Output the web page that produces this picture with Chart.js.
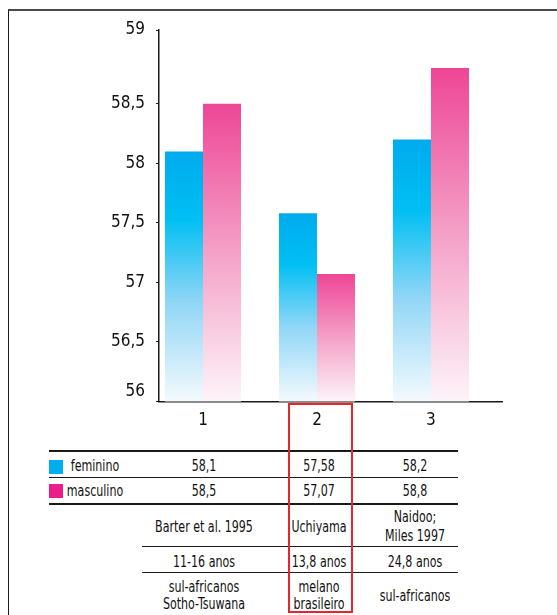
<!DOCTYPE html>
<html>
<head>
<meta charset="utf-8">
<script src="https://cdn.jsdelivr.net/npm/chart.js@4/dist/chart.umd.min.js"></script>
<style>
  html, body { margin: 0; padding: 0; background: #fff; }
  body { width: 557px; height: 615px; position: relative; overflow: hidden;
         font-family: "DejaVu Sans Condensed", "DejaVu Sans", sans-serif; color: #111; }
  #frame { position: absolute; left: 8px; top: 9px; width: 560px; height: 620px;
           border-top: 2px solid #4a4a4a; border-left: 1.5px solid #1a1a1a; box-sizing: border-box; }
  #c { position: absolute; left: 0; top: 0; }
  .t { position: absolute; transform: translate(-50%, -50%) scaleX(0.82); white-space: pre; text-align: center; font-size: 15px; line-height: 17px; }
  .ln { position: absolute; height: 1.5px; background: #1a1a1a; }
  .sq { position: absolute; width: 14px; height: 14px; }
  #box { position: absolute; left: 287.5px; top: 403px; width: 65px; height: 210px; border: 2px solid #e5262d; box-sizing: border-box; }
</style>
</head>
<body>
<div id="frame"></div>
<canvas id="c" width="557" height="440"></canvas>
<div id="table"></div>
<div id="box"></div>
<script>
const categories = ['1', '2', '3'];
const seriesNames = ['feminino', 'masculino'];
const feminino = [58.1, 57.58, 58.2];
const masculino = [58.5, 57.07, 58.8];
const yTickValues = [56, 56.5, 57, 57.5, 58, 58.5, 59];
const yTickLabels = ['56', '56,5', '57', '57,5', '58', '58,5', '59'];
const sources = ['Barter et al. 1995', 'Uchiyama', 'Naidoo;\nMiles 1997'];
const ages = ['11-16 anos', '13,8 anos', '24,8 anos'];
const populations = ['sul-africanos\nSotho-Tsuwana', 'melano\nbrasileiro', 'sul-africanos'];

const FONT = '"DejaVu Sans Condensed", "DejaVu Sans", sans-serif';

function makeGradient(stops, solid) {
  return function (ctx) {
    if (ctx.type !== 'data') return solid;
    const chart = ctx.chart;
    if (!chart.chartArea) return solid;
    const ys = chart.scales.y;
    const v = ctx.parsed ? ctx.parsed.y : null;
    if (v == null) return solid;
    const top = ys.getPixelForValue(v);
    const bottom = ys.getPixelForValue(ys.min);
    if (!isFinite(top) || !isFinite(bottom) || bottom - top < 1) return solid;
    const g = chart.ctx.createLinearGradient(0, top, 0, bottom);
    stops.forEach(s => g.addColorStop(s[0], s[1]));
    return g;
  };
}

const femStops = [[0, '#00abed'], [0.27, '#00bff3'], [0.6, '#8fd6f6'], [1, '#f4fafe']];
const mascStops = [[0, '#ee4696'], [0.5, '#f4a1c7'], [1, '#fdf4f9']];

new Chart(document.getElementById('c'), {
  type: 'bar',
  data: {
    datasets: [
      { label: seriesNames[0], data: categories.map((c, i) => ({ x: Number(c), y: feminino[i] })),
        backgroundColor: makeGradient(femStops, '#00aeef'), borderWidth: 0 },
      { label: seriesNames[1], data: categories.map((c, i) => ({ x: Number(c), y: masculino[i] })),
        backgroundColor: makeGradient(mascStops, '#ec1c8c'), borderWidth: 0 }
    ]
  },
  options: {
    responsive: false,
    animation: false,
    events: [],
    categoryPercentage: 0.667,
    barPercentage: 1,
    layout: { padding: { top: 30, right: 55, left: 0, bottom: 0 } },
    plugins: { legend: { display: false }, tooltip: { enabled: false }, title: { display: false } },
    scales: {
      x: {
        type: 'linear',
        offset: false,
        min: 0.614, max: 3.623,
        afterBuildTicks: s => { s.ticks = categories.map(c => ({ value: Number(c) })); },
        afterFit: s => { s.height = 38.5; },
        ticks: { callback: (v, i) => categories[i], color: '#111', font: { family: FONT, size: 17 }, padding: 1, autoSkip: false, maxRotation: 0 },
        grid: { display: false, offset: false },
        border: { display: true, color: '#1a1a1a', width: 1.5 }
      },
      y: {
        type: 'linear',
        min: 56, max: 59.12,
        afterFit: s => { s.width = 159; },
        afterBuildTicks: s => {
          const last = yTickValues[yTickValues.length - 1];
          s.ticks = yTickValues.map(v => ({ value: v >= last ? s.max : v }));
        },
        ticks: {
          callback: (v, i) => i === 0 ? [yTickLabels[i], ''] : yTickLabels[i],
          color: '#111', font: { family: FONT, size: 17 }, padding: 11, autoSkip: false
        },
        grid: { drawOnChartArea: false, drawTicks: true, tickLength: 3, color: '#1a1a1a', lineWidth: 1 },
        border: { display: true, color: '#1a1a1a', width: 1.5 }
      }
    }
  }
});

// Table below the chart
const table = document.getElementById('table');
const fmt = v => String(v).replace('.', ',');
function text(str, cx, cy, lh) {
  const d = document.createElement('div');
  d.className = 't';
  d.textContent = str;
  d.style.left = cx + 'px';
  d.style.top = cy + 'px';
  if (lh) d.style.lineHeight = lh + 'px';
  table.appendChild(d);
}
function line(x1, x2, y) {
  const d = document.createElement('div');
  d.className = 'ln';
  d.style.left = x1 + 'px';
  d.style.width = (x2 - x1) + 'px';
  d.style.top = (y - 0.75) + 'px';
  table.appendChild(d);
}
function square(color, x, y) {
  const d = document.createElement('div');
  d.className = 'sq';
  d.style.left = x + 'px';
  d.style.top = y + 'px';
  d.style.background = color;
  table.appendChild(d);
}
const colX = [204, 318.5, 415];
line(48.5, 458, 451);
line(48.5, 458, 477.5);
line(48.5, 458, 504);
line(141.5, 458, 546.7);
line(141.5, 458, 572.7);
square('#00aeef', 48.5, 459.5);
square('#ec1c8c', 48.5, 484);
text(seriesNames[0], 95, 466);
text(seriesNames[1], 95, 491);
feminino.forEach((v, i) => text(fmt(v), colX[i], 466));
masculino.forEach((v, i) => text(fmt(v), colX[i], 491));
sources.forEach((s, i) => text(s, colX[i], 526.5, 19));
ages.forEach((s, i) => text(s, colX[i], 562));
populations.forEach((s, i) => text(s, colX[i], 596, 17));
</script>
</body>
</html>
